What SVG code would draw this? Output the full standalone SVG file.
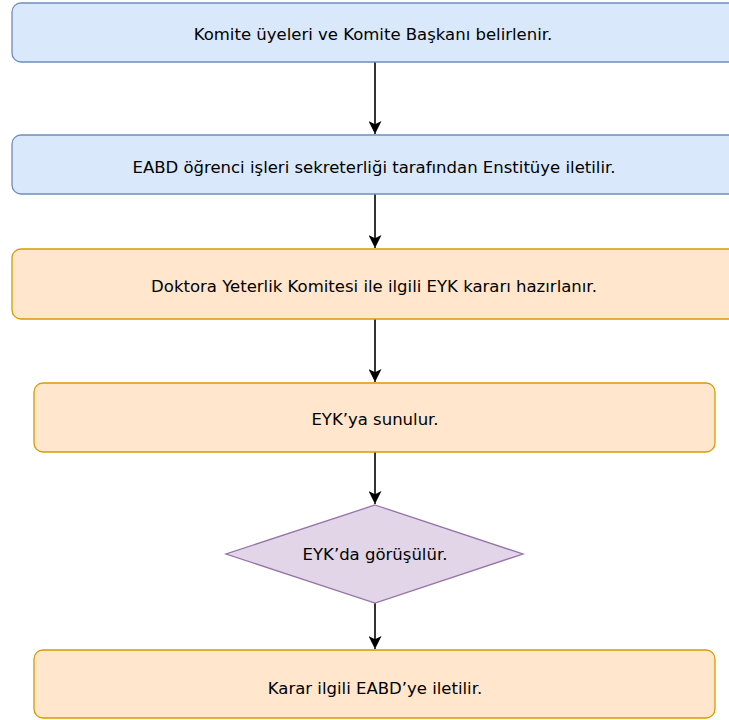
<svg xmlns="http://www.w3.org/2000/svg" width="729" height="720" viewBox="0 0 729 720">
<style>
.blue{fill:#dae8fc;stroke:#6c8ebf;stroke-width:1.3}
.orange{fill:#ffe6cc;stroke:#d79b00;stroke-width:1.3}
.purple{fill:#e1d5e7;stroke:#9673a6;stroke-width:1.3}
.t{font-family:"DejaVu Sans",Verdana,sans-serif;font-size:16.5px;fill:#000;text-anchor:middle;dominant-baseline:central}
.c{stroke:#000;stroke-width:1.6;fill:none}
</style>
<defs>
<marker id="arr" viewBox="0 0 10 12" refX="12" refY="6" markerWidth="11" markerHeight="13" markerUnits="userSpaceOnUse" orient="auto">
<path d="M0,0 L12,6 L0,12 L3,6 Z" fill="#000"/>
</marker>
</defs>
<rect width="729" height="720" fill="#fff"/>
<g id="connectors">
<path class="c" d="M375,62 V134" marker-end="url(#arr)"/>
<path class="c" d="M375,194 V248" marker-end="url(#arr)"/>
<path class="c" d="M375,319 V382" marker-end="url(#arr)"/>
<path class="c" d="M375,452 V504" marker-end="url(#arr)"/>
<path class="c" d="M375,603 V649" marker-end="url(#arr)"/>
</g>
<g id="n1">
<rect class="blue" x="12" y="3" width="740" height="59" rx="9"/>
<text class="t" x="373" y="34">Komite üyeleri ve Komite Başkanı belirlenir.</text>
</g>
<g id="n2">
<rect class="blue" x="12" y="135" width="740" height="59" rx="9"/>
<text class="t" x="374" y="167">EABD öğrenci işleri sekreterliği tarafından Enstitüye iletilir.</text>
</g>
<g id="n3">
<rect class="orange" x="12" y="249" width="740" height="70" rx="9"/>
<text class="t" x="374" y="286">Doktora Yeterlik Komitesi ile ilgili EYK kararı hazırlanır.</text>
</g>
<g id="n4">
<rect class="orange" x="34" y="383" width="681" height="69" rx="9"/>
<text class="t" x="375" y="419">EYK’ya sunulur.</text>
</g>
<g id="n5">
<polygon class="purple" points="375,505 523,554 375,603 226,554"/>
<text class="t" x="375" y="554">EYK’da görüşülür.</text>
</g>
<g id="n6">
<rect class="orange" x="34" y="650" width="681" height="68" rx="9"/>
<text class="t" x="375" y="688">Karar ilgili EABD’ye iletilir.</text>
</g>
</svg>
